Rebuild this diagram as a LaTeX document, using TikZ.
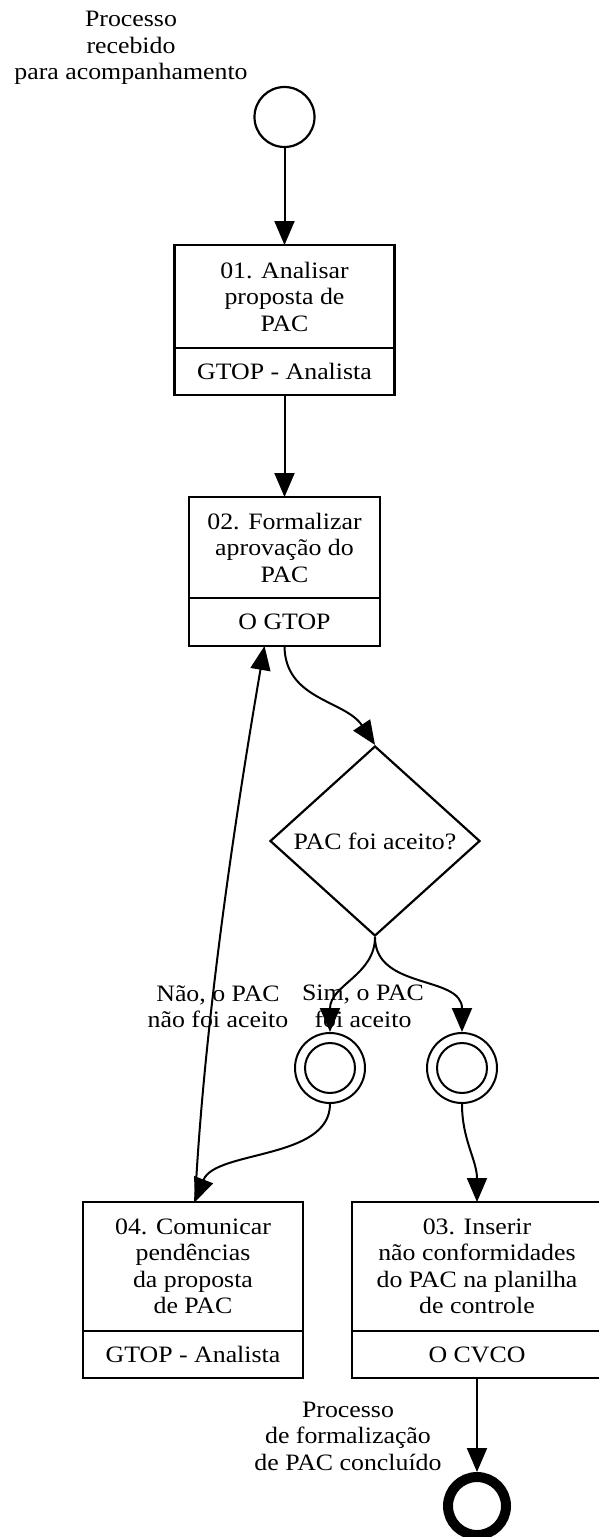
\documentclass[tikz,border=0pt]{standalone}
\usepackage{fontspec}
\setmainfont{Liberation Serif}[FakeStretch=1.1]
\usetikzlibrary{shapes.geometric,arrows.meta,calc}

\begin{document}
\begin{tikzpicture}[x=1pt,y=-1pt,
  every node/.style={font=\fontsize{23.5}{26.5}\selectfont, inner sep=0pt},
  lbl/.style={align=center},
  tasktitle/.style={draw, line width=2.4pt, rectangle, align=center, outer sep=0pt},
  taskrole/.style={draw, line width=2.4pt, rectangle, align=center, outer sep=0pt, minimum height=47pt},
  startev/.style={draw, circle, line width=2.2pt, minimum size=60pt},
  midev/.style={draw, circle, line width=2pt, minimum size=70pt},
  endev/.style={draw, circle, line width=10pt, minimum size=58pt},
  gate/.style={draw, diamond, line width=2.2pt, minimum width=210pt, minimum height=190pt, aspect=1.1},
  flow/.style={line width=2pt, -{Triangle[length=24pt,width=20pt]}}
]
\useasboundingbox (0,0) rectangle (599,1537);
\clip (0,0) rectangle (599,1537);

% start event and its caption
\node[lbl] (startlbl) at (131,48) {Processo\\recebido\\para acompanhamento};
\node[startev] (start) at (284.5,117) {};

% task 01
\node[tasktitle, minimum width=220pt, minimum height=103pt] (t1) at (284.5,296.5)
  {01. Analisar\\proposta de\\PAC};
\node[taskrole, minimum width=220pt, anchor=north] (t1r) at (t1.south) {GTOP - Analista};

% task 02
\node[tasktitle, minimum width=191pt, minimum height=101pt] (t2) at (284.5,547.5)
  {02. Formalizar\\aprovação do\\PAC};
\node[taskrole, minimum width=191pt, minimum height=48pt, anchor=north] (t2r) at (t2.south) {O GTOP};

% decision
\node[gate] (gw) at (375,841) {PAC foi aceito?};

% intermediate events
\node[midev] (ev1) at (330,1068) {};
\draw[line width=2pt] (ev1.center) circle[radius=25pt];
\node[midev] (ev2) at (462,1068) {};
\draw[line width=2pt] (ev2.center) circle[radius=25pt];

% task 04
\node[tasktitle, minimum width=220pt, minimum height=129pt] (t4) at (193,1266.5)
  {04. Comunicar\\pendências\\da proposta\\de PAC};
\node[taskrole, minimum width=220pt, anchor=north] (t4r) at (t4.south) {GTOP - Analista};

% task 03
\node[tasktitle, minimum width=250pt, minimum height=129pt] (t3) at (477,1266.5)
  {03. Inserir\\não conformidades\\do PAC na planilha\\de controle};
\node[taskrole, minimum width=250pt, anchor=north] (t3r) at (t3.south) {O CVCO};

% end event and its caption
\node[endev] (finish) at (477,1506) {};
\node[lbl] (endlbl) at (348,1436) {Processo\\de formalização\\de PAC concluído};

% branch captions
\node[lbl] (nolbl) at (218,1006.5) {Não, o PAC\\não foi aceito};
\node[lbl] (yeslbl) at (363,1006.5) {Sim, o PAC\\foi aceito};

% sequence flows
\draw[flow] (start.south) -- (t1.north);
\draw[flow] (t1r.south) -- (t2.north);
\draw[flow] (t2r.south) .. controls (285,700) and (345,700) .. (gw.north);
\draw[flow] (gw.south) .. controls (375,975) and (330,985) .. (ev1.north);
\draw[flow] (gw.south) .. controls (375,990) and (462,975) .. (ev2.north);
\draw[flow] (ev1.south) .. controls (330,1160) and (215,1150) .. ([xshift=2pt]t4.north);
\draw[flow] ([xshift=2pt]t4.north) .. controls (205,1000) and (245,760) .. ([xshift=-20pt]t2r.south);
\draw[flow] (ev2.south) .. controls (462,1140) and (477,1160) .. (t3.north);
\draw[flow] (t3r.south) -- (finish.north);
\end{tikzpicture}
\end{document}
